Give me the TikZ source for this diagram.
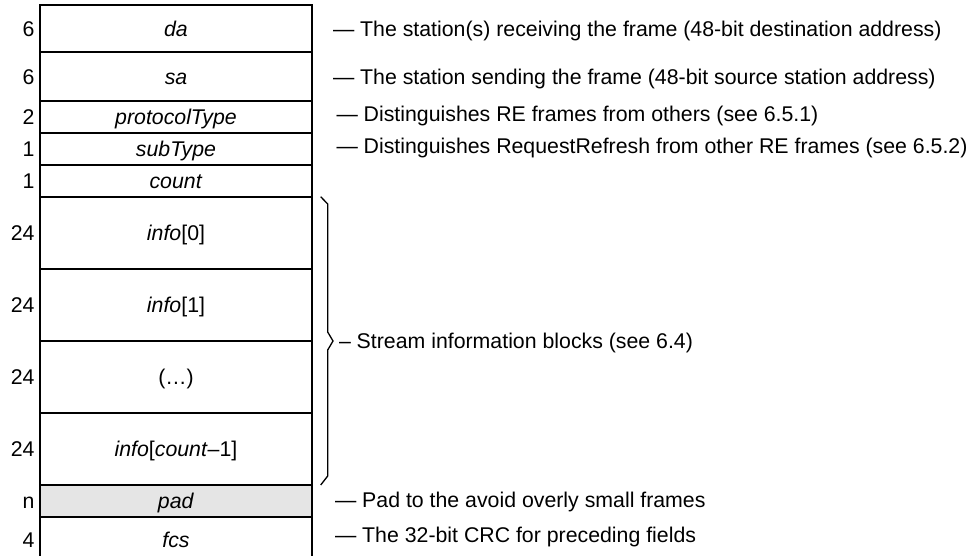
\documentclass[tikz,border=0pt]{standalone}
\usepackage{fontspec}
\setmainfont{Liberation Sans}
\begin{document}
\begin{tikzpicture}[x=1pt,y=-1pt,
  every node/.style={font=\fontsize{21.3}{25}\selectfont, inner sep=0pt, outer sep=0pt},
  field/.style={draw=black, line width=1.8pt, minimum width=272pt,
                text height=15pt, text depth=0pt},
  padfield/.style={field, fill=black!10},
  size/.style={anchor=east, text height=15pt, text depth=0pt},
  note/.style={anchor=base west},
  bracket/.style={draw=black, line width=1.3pt, line join=miter}]
\useasboundingbox (0,0) rectangle (969,555);

% frame fields, top to bottom (x from 40 to 312)
\node[field, minimum height=47pt] (da)    at (176,28.5)  {\textit{da}};
\node[field, minimum height=49pt] (sa)    at (176,76.5)  {\textit{sa}};
\node[field, minimum height=32pt] (ptype) at (176,117)   {\textit{protocolType}};
\node[field, minimum height=32pt] (stype) at (176,149)   {\textit{subType}};
\node[field, minimum height=32pt] (cnt)   at (176,181)   {\textit{count}};
\node[field, minimum height=72pt] (inf0)  at (176,233)   {\textit{info}[0]};
\node[field, minimum height=72pt] (inf1)  at (176,305)   {\textit{info}[1]};
\node[field, minimum height=72pt] (infx)  at (176,377)   {(…)};
\node[field, minimum height=72pt] (infn)  at (176,449)   {\textit{info}[\textit{count}–1]};
\node[padfield, minimum height=32pt] (pad) at (176,501)  {\textit{pad}};
\node[field, minimum height=45pt] (fcs)   at (176,539.5) {\textit{fcs}};

% octet counts
\foreach \f/\n in {da/6, sa/6, ptype/2, stype/1, cnt/1, inf0/24, inf1/24,
                   infx/24, infn/24, pad/n, fcs/4}
  \node[size] (sz-\f) at ([xshift=-5.5pt]\f.west) {\n};

% descriptions
\node[note] (d-da)    at (333,36)    {— The station(s) receiving the frame (48-bit destination address)};
\node[note] (d-sa)    at (333,84)    {— The station sending the frame (48-bit source station address)};
\node[note] (d-ptype) at (336.5,121.5) {— Distinguishes RE frames from others (see 6.5.1)};
\node[note] (d-stype) at (336.5,153) {— Distinguishes RequestRefresh from other RE frames (see 6.5.2)};
\node[note] (d-pad)   at (335,507)   {— Pad to the avoid overly small frames};
\node[note] (d-fcs)   at (335,542)   {— The 32-bit CRC for preceding fields};

% bracket spanning the stream information blocks
\coordinate (b1) at (320.7,196.7);
\coordinate (b2) at (327.7,204);
\coordinate (b3) at (327.7,332);
\coordinate (bt) at (333,341);
\coordinate (b4) at (327.7,350);
\coordinate (b5) at (327.7,476);
\coordinate (b6) at (320.7,485);
\draw[bracket] (b1) -- (b2) -- (b3) -- (bt) -- (b4) -- (b5) -- (b6);
\node[note] (d-info) at (339,348.5) {– Stream information blocks (see 6.4)};
\end{tikzpicture}
\end{document}
